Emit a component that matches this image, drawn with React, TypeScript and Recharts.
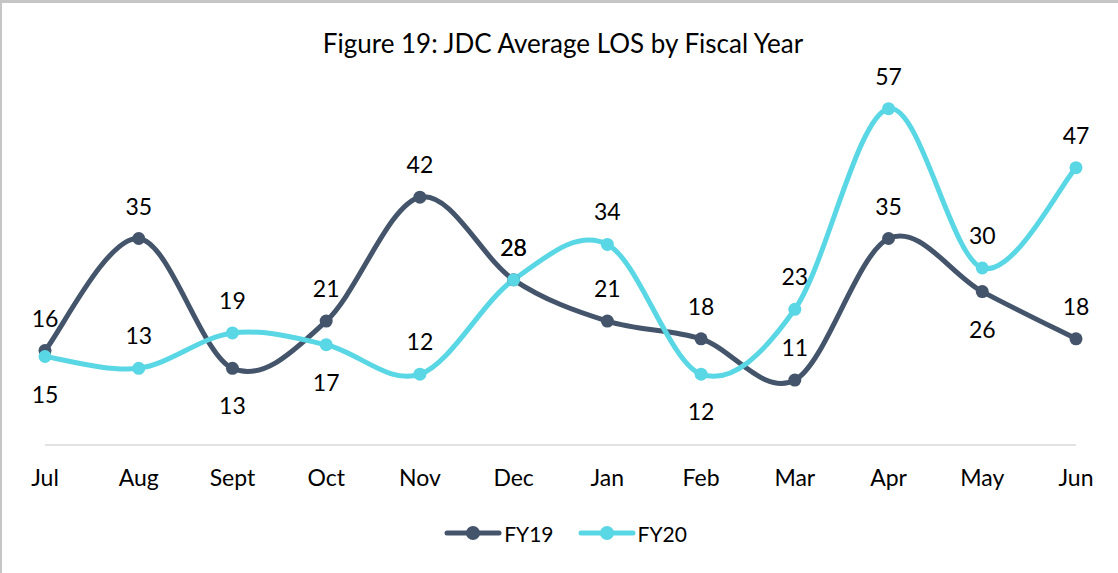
import React from "react";
import { LineChart, Line, XAxis, YAxis, Legend, LabelList } from "recharts";

const months = ["Jul", "Aug", "Sept", "Oct", "Nov", "Dec", "Jan", "Feb", "Mar", "Apr", "May", "Jun"];
const fy19 = [16, 35, 13, 21, 42, 28, 21, 18, 11, 35, 26, 18];
const fy20 = [15, 13, 19, 17, 12, 28, 34, 12, 23, 57, 30, 47];
// months whose data label sits under the point
const fy19Below = ["Sept", "May"];
const fy20Below = ["Jul", "Oct", "Feb"];

const series = [
  { key: "FY19", color: "#44546A", values: fy19, below: fy19Below },
  { key: "FY20", color: "#5AD7E4", values: fy20, below: fy20Below },
];

const data = months.map((m, i) => ({ month: m, FY19: fy19[i], FY20: fy20[i] }));

const FONT = "Lato, 'Open Sans', sans-serif";

// excel-ish smoothing (cardinal spline, tension 0)
function smoothCurve(context: any) {
  let pts: number[][] = [];
  return {
    areaStart() {},
    areaEnd() {},
    lineStart() {
      pts = [];
    },
    point(x: number, y: number) {
      pts.push([+x, +y]);
    },
    lineEnd() {
      const n = pts.length;
      if (!n) return;
      context.moveTo(pts[0][0], pts[0][1]);
      for (let i = 0; i < n - 1; i++) {
        const p0 = pts[Math.max(i - 1, 0)];
        const p1 = pts[i];
        const p2 = pts[i + 1];
        const p3 = pts[Math.min(i + 2, n - 1)];
        context.bezierCurveTo(
          p1[0] + (p2[0] - p0[0]) / 6,
          p1[1] + (p2[1] - p0[1]) / 6,
          p2[0] - (p3[0] - p1[0]) / 6,
          p2[1] - (p3[1] - p1[1]) / 6,
          p2[0],
          p2[1]
        );
      }
    },
  };
}

const makeLabel = (below: string[]) => (props: any) => {
  const { x, y, value, index } = props;
  const under = below.includes(months[index]);
  return (
    <text
      x={x}
      y={under ? y + 37 : y - 33}
      textAnchor="middle"
      dominantBaseline="central"
      fontSize={23}
      fontFamily={FONT}
      fill="#000"
    >
      {value}
    </text>
  );
};

function LegendBox() {
  return (
    <div style={{ height: 40, display: "flex", justifyContent: "center", alignItems: "center", fontFamily: FONT, fontSize: 21, color: "#000", paddingLeft: 10 }}>
      {series.map((s, i) => (
        <div key={s.key} style={{ display: "flex", alignItems: "center", marginLeft: i ? 24 : 0 }}>
          <svg width={58} height={20}>
            <line x1={3} y1={10} x2={55} y2={10} stroke={s.color} strokeWidth={5} strokeLinecap="round" />
            <circle cx={29} cy={10} r={7} fill={s.color} />
          </svg>
          <span style={{ marginLeft: 2 }}>{s.key}</span>
        </div>
      ))}
    </div>
  );
}

export default function App() {
  return (
    <div style={{ position: "absolute", left: 0, top: 0, width: 1118, height: 573, background: "#fff" }}>
      <div
        style={{
          position: "absolute",
          top: 26,
          left: 0,
          width: 1126,
          textAlign: "center",
          fontFamily: FONT,
          fontSize: 26,
          color: "#000",
          lineHeight: "34px",
        }}
      >
        Figure 19: JDC Average LOS by Fiscal Year
      </div>
      <LineChart width={1118} height={573} data={data} margin={{ top: 91, left: 45, right: 42, bottom: 20 }}>
        <XAxis
          dataKey="month"
          height={68}
          axisLine={{ stroke: "#D9D9D9", strokeWidth: 1.5 }}
          tickLine={false}
          tickMargin={19}
          interval={0}
          tick={{ fontSize: 23, fontFamily: FONT, fill: "#000" }}
        />
        <YAxis hide domain={[0, 60]} />
        <Legend verticalAlign="bottom" content={() => <LegendBox />} />
        {series.map((s) => (
          <Line
            key={s.key}
            dataKey={s.key}
            type={smoothCurve as any}
            stroke={s.color}
            strokeWidth={5}
            dot={{ r: 6.5, fill: s.color, stroke: s.color, strokeWidth: 0 }}
            activeDot={false}
            isAnimationActive={false}
          >
            <LabelList dataKey={s.key} content={makeLabel(s.below)} />
          </Line>
        ))}
      </LineChart>
      <div
        style={{
          position: "absolute",
          left: 0,
          top: 0,
          width: 1118,
          height: 573,
          borderTop: "3px solid #C6C6C6",
          borderLeft: "2px solid #C6C6C6",
          boxSizing: "border-box",
          pointerEvents: "none",
        }}
      />
    </div>
  );
}
